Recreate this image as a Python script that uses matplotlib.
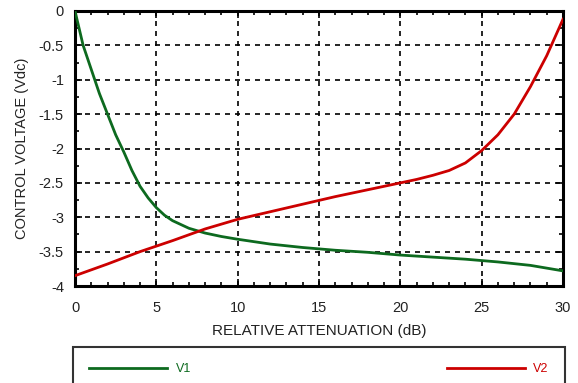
import numpy as np
import matplotlib
matplotlib.use('Agg')
import matplotlib.pyplot as plt
from matplotlib.ticker import MultipleLocator

plt.rcParams['font.family'] = ['Liberation Sans', 'DejaVu Sans']

# valeurs
v1_x = [0, 0.25, 0.5, 1, 1.5, 2, 2.5, 3, 3.5, 4, 4.5, 5, 5.5, 6, 7, 8, 9, 10,
        12, 14, 16, 18, 20, 22, 24, 26, 28, 30]
v1_y = [0, -0.25, -0.5, -0.85, -1.2, -1.5, -1.8, -2.05, -2.32, -2.55, -2.72, -2.86,
        -2.97, -3.05, -3.16, -3.23, -3.28, -3.32, -3.39, -3.44, -3.48, -3.51, -3.55,
        -3.58, -3.61, -3.65, -3.7, -3.78]
v2_x = [0, 2, 4, 6, 8, 10, 12, 14, 16, 18, 20, 21, 22, 23, 24, 25, 26, 27, 28, 29, 30]
v2_y = [-3.85, -3.68, -3.5, -3.34, -3.17, -3.03, -2.92, -2.81, -2.7, -2.6, -2.5,
        -2.45, -2.39, -2.32, -2.21, -2.03, -1.8, -1.5, -1.1, -0.65, -0.12]

x_ticks = [0, 5, 10, 15, 20, 25, 30]
y_ticks = [0, -0.5, -1, -1.5, -2, -2.5, -3, -3.5, -4]
y_labels = ['0', '-0.5', '-1', '-1.5', '-2', '-2.5', '-3', '-3.5', '-4']

green = '#0d6a1f'
red = '#cc0000'
txt = '#222222'

fig = plt.figure(figsize=(5.78, 3.83), dpi=100)
ax = fig.add_axes([75/578, 97/383, 488/578, 275/383])

l1, = ax.plot(v1_x, v1_y, color=green, lw=2.0, label='V1', zorder=3)
l2, = ax.plot(v2_x, v2_y, color=red, lw=2.0, label='V2', zorder=3)

ax.set_xlim(0, 30)
ax.set_ylim(-4, 0)
ax.set_xticks(x_ticks)
ax.set_xticklabels([str(t) for t in x_ticks])
ax.set_yticks(y_ticks)
ax.set_yticklabels(y_labels)
ax.xaxis.set_minor_locator(MultipleLocator(1))
ax.yaxis.set_minor_locator(MultipleLocator(0.25))
ax.tick_params(which='both', direction='in', top=True, right=True,
               labelsize=10.5, labelcolor=txt, width=1.2)
ax.tick_params(which='major', length=5)
ax.tick_params(axis='x', which='major', pad=11)
ax.tick_params(axis='y', which='major', pad=8)
ax.tick_params(which='minor', length=3)
ax.grid(True, which='major', color='black', linestyle=(0, (3, 3)), lw=1.2)
for s in ax.spines.values():
    s.set_linewidth(2.2)

ax.set_xlabel('RELATIVE ATTENUATION (dB)', fontsize=11, color=txt, labelpad=6)
ax.set_ylabel('CONTROL VOLTAGE (Vdc)', fontsize=10.5, color=txt, labelpad=7)

leg = fig.legend(handles=[l1, l2], ncol=2, mode='expand', loc='upper left',
                 bbox_to_anchor=(73/578, 36/383, 492/578, 0), borderaxespad=0,
                 fontsize=9, handlelength=6.2, handletextpad=0.7, borderpad=1.3,
                 frameon=True, fancybox=False, labelcolor='linecolor')
leg.get_frame().set_edgecolor('black')
leg.get_frame().set_linewidth(1.5)

fig.savefig('out.png', dpi=100)
